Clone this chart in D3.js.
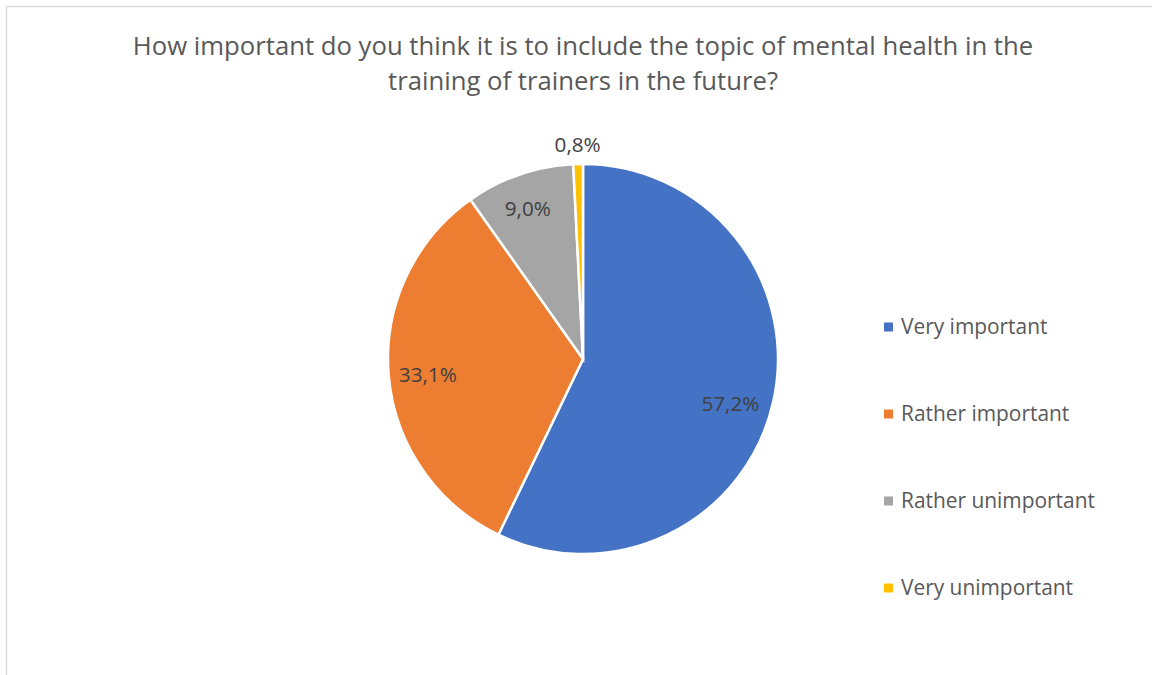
<!DOCTYPE html>
<html><head><meta charset="utf-8">
<script src="https://cdn.jsdelivr.net/npm/d3@7"></script>
<style>body{margin:0;background:#fff}svg{display:block}text{font-family:"Open Sans",sans-serif}</style>
</head><body>
<svg id="c" width="1152" height="675"></svg>
<script>
const categories = ["Very important","Rather important","Rather unimportant","Very unimportant"];
const values = [57.2, 33.1, 9.0, 0.8];
const labels = ["57,2%","33,1%","9,0%","0,8%"];
const colors = ["#4472c4","#ed7d31","#a5a5a5","#ffc000"];
const titleLines = ["How important do you think it is to include the topic of mental health in the","training of trainers in the future?"];

const svg = d3.select("#c");
svg.append("rect").attr("x",6.5).attr("y",6.5).attr("width",1160).attr("height",700)
  .attr("fill","#fff").attr("stroke","#d9d9d9").attr("stroke-width",1.5);

// title
const t = svg.append("text").attr("text-anchor","middle").attr("fill","#595959").attr("font-size",22);
titleLines.forEach((l,i)=>t.append("tspan").attr("x",583).attr("y",55+i*35).text(l));
const w0 = t.select("tspan").node().getComputedTextLength();
t.attr("font-size", 22*901/w0);

const cx=583, cy=359, R=195;
const pie = d3.pie().sort(null).value(d=>d)(values);
const arc = d3.arc().innerRadius(0).outerRadius(R);
const g = svg.append("g").attr("transform",`translate(${cx},${cy})`);
g.selectAll("path").data(pie).join("path").attr("d",arc)
  .attr("fill",(d,i)=>colors[i]).attr("stroke","#fff").attr("stroke-width",2.5);

// label layout: radius factor and angle nudge (radians)
const lblLayout = [{r:0.79,a:0.07},{r:0.8,a:-0.02},{r:0.82,a:-0.02},{r:1.1,a:0}];
const lbls = g.selectAll("text.lbl").data(pie).join("text").attr("class","lbl")
  .attr("transform",(d,i)=>{
    const L=lblLayout[i], a=(d.startAngle+d.endAngle)/2+L.a, rr=R*L.r;
    return `translate(${rr*Math.sin(a)},${-rr*Math.cos(a)})`;})
  .attr("text-anchor","middle").attr("dy","0.35em").attr("fill","#404040").attr("font-size",17)
  .text((d,i)=>labels[i]);
const lw = lbls.filter((d,i)=>i===0).node().getComputedTextLength();
lbls.attr("font-size", 17*58/lw);

const leg = svg.append("g");
const ly = d3.scalePoint().domain(categories).range([327,588]);
const legT = [];
categories.forEach((c,i)=>{
  leg.append("rect").attr("x",884).attr("y",ly(c)-4.5).attr("width",9).attr("height",9).attr("fill",colors[i]);
  legT.push(leg.append("text").attr("x",901).attr("y",ly(c)).attr("dy","0.35em").attr("fill","#595959").attr("font-size",17.5).text(c));
});
const lw2 = legT[2].node().getComputedTextLength();
legT.forEach(s=>s.attr("font-size",17.5*194/lw2));
</script>
</body></html>
